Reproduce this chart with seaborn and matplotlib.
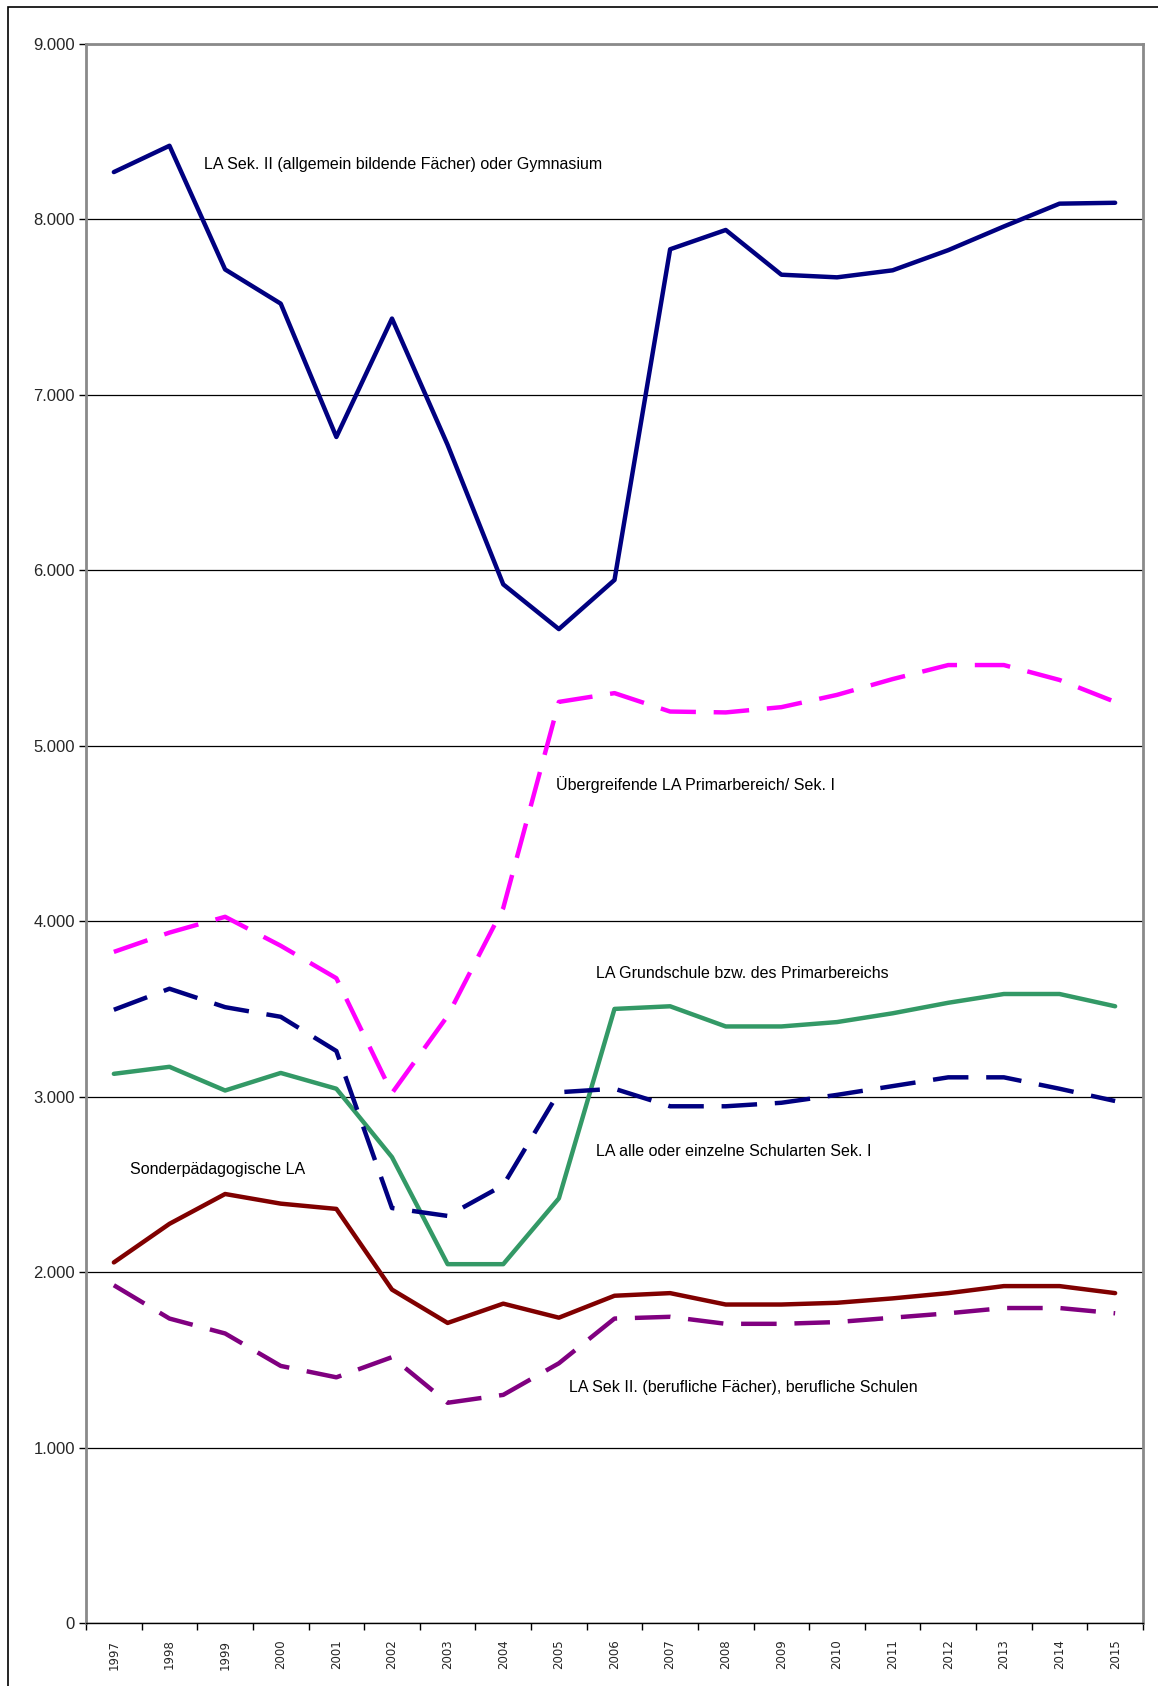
import pandas as pd
import matplotlib.pyplot as plt
import seaborn as sns
from matplotlib.patches import Rectangle

years = [str(y) for y in range(1997, 2016)]

sek2_gym = [8270, 8420, 7715, 7520, 6760, 7435, 6715, 5920, 5665, 5945,
            7830, 7940, 7685, 7670, 7710, 7825, 7960, 8090, 8095]
uebergreifend = [3825, 3935, 4025, 3860, 3675, 3020, 3460, 4075, 5250, 5300,
                 5195, 5190, 5220, 5290, 5380, 5460, 5460, 5375, 5250]
sek1 = [3495, 3615, 3510, 3455, 3260, 2365, 2320, 2495, 3025, 3045,
        2945, 2945, 2965, 3010, 3060, 3110, 3110, 3045, 2975]
grundschule = [3130, 3170, 3035, 3135, 3045, 2655, 2045, 2045, 2420, 3500,
               3515, 3400, 3400, 3425, 3475, 3535, 3585, 3585, 3515]
sonderpaed = [2055, 2275, 2445, 2390, 2360, 1900, 1710, 1820, 1740, 1865,
              1880, 1815, 1815, 1825, 1850, 1880, 1920, 1920, 1880]
sek2_beruf = [1925, 1735, 1650, 1465, 1400, 1515, 1255, 1300, 1480, 1735,
              1745, 1705, 1705, 1715, 1740, 1765, 1795, 1795, 1765]

y_ticks = [0, 1000, 2000, 3000, 4000, 5000, 6000, 7000, 8000, 9000]
y_labels = ["0", "1.000", "2.000", "3.000", "4.000", "5.000", "6.000", "7.000", "8.000", "9.000"]

series = [
    (sek2_gym, "#000080", None, "LA Sek. II (allgemein bildende Fächer) oder Gymnasium", 1.62, 8315),
    (uebergreifend, "#FF00FF", (8, 4), "Übergreifende LA Primarbereich/ Sek. I", 7.94, 4780),
    (grundschule, "#339966", None, "LA Grundschule bzw. des Primarbereichs", 8.66, 3700),
    (sek1, "#000080", (8, 4), "LA alle oder einzelne Schularten Sek. I", 8.66, 2690),
    (sonderpaed, "#800000", None, "Sonderpädagogische LA", 0.29, 2585),
    (sek2_beruf, "#800080", (8, 4), "LA Sek II. (berufliche Fächer), berufliche Schulen", 8.19, 1340),
]

sns.set_style("white")
plt.rcParams['font.family'] = ['Liberation Sans', 'DejaVu Sans']

fig = plt.figure(figsize=(11.58, 16.86), dpi=100)
ax = fig.add_axes([0.0743, 0.0374, 0.9127, 0.9365])

x = list(range(len(years)))
for vals, col, dash, label, tx, ty in series:
    df = pd.DataFrame({"x": x, "y": vals})
    sns.lineplot(data=df, x="x", y="y", ax=ax, color=col, linewidth=3.2)
    if dash is not None:
        ax.lines[-1].set_dashes(dash)
    ax.text(tx, ty, label, fontsize=11.5, va="center", ha="left", color="black")

ax.set_ylim(0, 9000)
ax.set_xlim(-0.5, len(years) - 0.5)
ax.set_yticks(y_ticks)
ax.set_yticklabels(y_labels, fontsize=12)
ax.yaxis.grid(True, color="black", linewidth=0.9)
ax.set_axisbelow(True)

ax.set_xticks([i - 0.5 for i in range(len(years) + 1)])
ax.set_xticklabels([])
ax.set_xticks(x, minor=True)
ax.set_xticklabels(years, minor=True, rotation=90, fontsize=8.5, family="DejaVu Sans")
ax.tick_params(axis="x", which="minor", length=0, pad=12)
ax.tick_params(axis="x", which="major", length=5, width=1, color="black", direction="out", bottom=True)
ax.tick_params(axis="y", length=5, width=1, color="black", direction="out", left=True, pad=3)

for s in ax.spines.values():
    s.set_color("#8a8a8a")
    s.set_linewidth(2)
ax.spines["bottom"].set_color("black")
ax.spines["bottom"].set_linewidth(1)

ax.set_xlabel("")
ax.set_ylabel("")

fig.add_artist(Rectangle((8 / 1158, -0.05), 1.2, 1 - 7 / 1686 + 0.05,
                         transform=fig.transFigure, fill=False, edgecolor="black", linewidth=1.2))

fig.savefig("out.png", dpi=100)
